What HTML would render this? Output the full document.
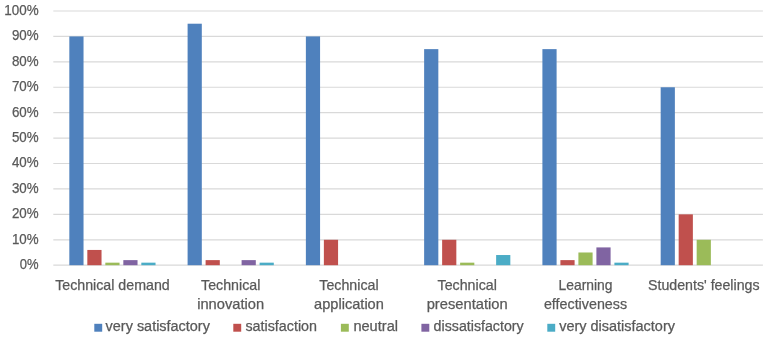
<!DOCTYPE html>
<html lang="en"><head><meta charset="utf-8"><title>Chart</title>
<style>
html,body{margin:0;padding:0;background:#fff;}
body{width:767px;height:338px;overflow:hidden;}
svg{display:block;}
text{font-family:"Liberation Sans",sans-serif;fill:#595959;stroke:#595959;stroke-width:0.25px;}
.y{font-size:14.2px;text-anchor:end;}
.c{font-size:14.3px;text-anchor:middle;}
.l{font-size:13.8px;}
</style></head>
<body>
<svg width="767" height="338" viewBox="0 0 767 338">
<rect width="767" height="338" fill="#fff"/>
<g stroke="#D9D9D9" stroke-width="1.2">
<line x1="53.3" y1="265.20" x2="762.9" y2="265.20"/>
<line x1="53.3" y1="239.78" x2="762.9" y2="239.78"/>
<line x1="53.3" y1="214.36" x2="762.9" y2="214.36"/>
<line x1="53.3" y1="188.94" x2="762.9" y2="188.94"/>
<line x1="53.3" y1="163.52" x2="762.9" y2="163.52"/>
<line x1="53.3" y1="138.10" x2="762.9" y2="138.10"/>
<line x1="53.3" y1="112.68" x2="762.9" y2="112.68"/>
<line x1="53.3" y1="87.26" x2="762.9" y2="87.26"/>
<line x1="53.3" y1="61.84" x2="762.9" y2="61.84"/>
<line x1="53.3" y1="36.42" x2="762.9" y2="36.42"/>
<line x1="53.3" y1="11.00" x2="762.9" y2="11.00"/>
</g>
<rect x="69.33" y="36.42" width="14.20" height="228.78" fill="#4F81BD"/>
<rect x="87.33" y="249.95" width="14.20" height="15.25" fill="#C0504D"/>
<rect x="105.33" y="262.66" width="14.20" height="2.54" fill="#9BBB59"/>
<rect x="123.33" y="260.12" width="14.20" height="5.08" fill="#8064A2"/>
<rect x="141.33" y="262.66" width="14.20" height="2.54" fill="#4BACC6"/>
<rect x="187.60" y="23.71" width="14.20" height="241.49" fill="#4F81BD"/>
<rect x="205.60" y="260.12" width="14.20" height="5.08" fill="#C0504D"/>
<rect x="241.60" y="260.12" width="14.20" height="5.08" fill="#8064A2"/>
<rect x="259.60" y="262.66" width="14.20" height="2.54" fill="#4BACC6"/>
<rect x="305.87" y="36.42" width="14.20" height="228.78" fill="#4F81BD"/>
<rect x="323.87" y="239.78" width="14.20" height="25.42" fill="#C0504D"/>
<rect x="424.13" y="49.13" width="14.20" height="216.07" fill="#4F81BD"/>
<rect x="442.13" y="239.78" width="14.20" height="25.42" fill="#C0504D"/>
<rect x="460.13" y="262.66" width="14.20" height="2.54" fill="#9BBB59"/>
<rect x="496.13" y="255.03" width="14.20" height="10.17" fill="#4BACC6"/>
<rect x="542.40" y="49.13" width="14.20" height="216.07" fill="#4F81BD"/>
<rect x="560.40" y="260.12" width="14.20" height="5.08" fill="#C0504D"/>
<rect x="578.40" y="252.49" width="14.20" height="12.71" fill="#9BBB59"/>
<rect x="596.40" y="247.41" width="14.20" height="17.79" fill="#8064A2"/>
<rect x="614.40" y="262.66" width="14.20" height="2.54" fill="#4BACC6"/>
<rect x="660.67" y="87.26" width="14.20" height="177.94" fill="#4F81BD"/>
<rect x="678.67" y="214.36" width="14.20" height="50.84" fill="#C0504D"/>
<rect x="696.67" y="239.78" width="14.20" height="25.42" fill="#9BBB59"/>
<text class="y" x="38.6" y="269.15" textLength="18.8" lengthAdjust="spacingAndGlyphs">0%</text>
<text class="y" x="38.6" y="243.73" textLength="26.7" lengthAdjust="spacingAndGlyphs">10%</text>
<text class="y" x="38.6" y="218.31" textLength="26.7" lengthAdjust="spacingAndGlyphs">20%</text>
<text class="y" x="38.6" y="192.89" textLength="26.7" lengthAdjust="spacingAndGlyphs">30%</text>
<text class="y" x="38.6" y="167.47" textLength="26.7" lengthAdjust="spacingAndGlyphs">40%</text>
<text class="y" x="38.6" y="142.05" textLength="26.7" lengthAdjust="spacingAndGlyphs">50%</text>
<text class="y" x="38.6" y="116.63" textLength="26.7" lengthAdjust="spacingAndGlyphs">60%</text>
<text class="y" x="38.6" y="91.21" textLength="26.7" lengthAdjust="spacingAndGlyphs">70%</text>
<text class="y" x="38.6" y="65.79" textLength="26.7" lengthAdjust="spacingAndGlyphs">80%</text>
<text class="y" x="38.6" y="40.37" textLength="26.7" lengthAdjust="spacingAndGlyphs">90%</text>
<text class="y" x="38.6" y="14.95" textLength="34.3" lengthAdjust="spacingAndGlyphs">100%</text>
<text class="c" x="112.43" y="289.90" textLength="114.6" lengthAdjust="spacingAndGlyphs">Technical demand</text>
<text class="c" x="230.70" y="289.90" textLength="59.3" lengthAdjust="spacingAndGlyphs">Technical</text>
<text class="c" x="230.70" y="309.00" textLength="67.0" lengthAdjust="spacingAndGlyphs">innovation</text>
<text class="c" x="348.97" y="289.90" textLength="59.3" lengthAdjust="spacingAndGlyphs">Technical</text>
<text class="c" x="348.97" y="309.00" textLength="69.8" lengthAdjust="spacingAndGlyphs">application</text>
<text class="c" x="467.23" y="289.90" textLength="59.3" lengthAdjust="spacingAndGlyphs">Technical</text>
<text class="c" x="467.23" y="309.00" textLength="81.1" lengthAdjust="spacingAndGlyphs">presentation</text>
<text class="c" x="585.50" y="289.90" textLength="54.0" lengthAdjust="spacingAndGlyphs">Learning</text>
<text class="c" x="585.50" y="309.00" textLength="83.2" lengthAdjust="spacingAndGlyphs">effectiveness</text>
<text class="c" x="703.77" y="289.90" textLength="111.6" lengthAdjust="spacingAndGlyphs">Students' feelings</text>
<rect x="94.3" y="323.8" width="7.9" height="7.9" fill="#4F81BD"/>
<text class="l" x="105.6" y="331.1" textLength="104.3" lengthAdjust="spacingAndGlyphs">very satisfactory</text>
<rect x="233.3" y="323.8" width="7.9" height="7.9" fill="#C0504D"/>
<text class="l" x="245.4" y="331.1" textLength="71.6" lengthAdjust="spacingAndGlyphs">satisfaction</text>
<rect x="340.9" y="323.8" width="7.9" height="7.9" fill="#9BBB59"/>
<text class="l" x="353.4" y="331.1" textLength="44.6" lengthAdjust="spacingAndGlyphs">neutral</text>
<rect x="421.4" y="323.8" width="7.9" height="7.9" fill="#8064A2"/>
<text class="l" x="433.6" y="331.1" textLength="90.1" lengthAdjust="spacingAndGlyphs">dissatisfactory</text>
<rect x="547.3" y="323.8" width="7.9" height="7.9" fill="#4BACC6"/>
<text class="l" x="559.2" y="331.1" textLength="115.8" lengthAdjust="spacingAndGlyphs">very disatisfactory</text>
</svg>
</body></html>
